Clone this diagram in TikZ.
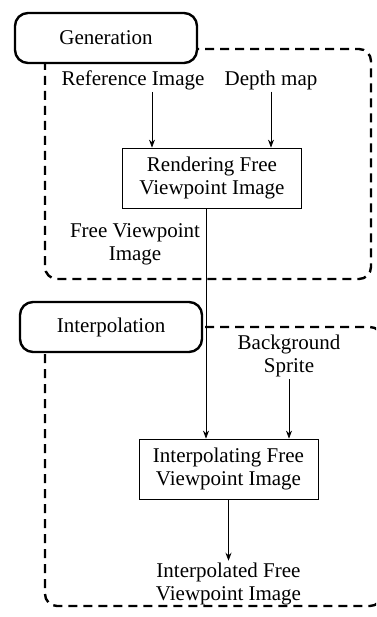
\documentclass[tikz,border=0pt]{standalone}
\usepackage{fontspec}
\setmainfont{Liberation Serif}
\usetikzlibrary{shapes.geometric, arrows.meta}

\begin{document}
\begin{tikzpicture}[x=1pt, y=-1pt, font=\fontsize{21}{23}\selectfont]
		\tikzstyle{Stage} = [rectangle, rounded corners=13pt, minimum width=182pt, minimum height=50pt, text centered, line width=2.4pt, draw=black, fill=white]
		\tikzstyle{Process} = [rectangle, minimum width=179pt, minimum height=60pt, align=center, line width=0.8pt, draw=black, fill=white]
		\tikzstyle{Data} = [align=center, inner sep=2pt]
		\tikzstyle{Region} = [line width=2.4pt, dash pattern=on 9pt off 6pt, rounded corners=12pt]
		\tikzstyle{arrow} = [line width=0.8pt, -{Stealth[length=8pt, width=6pt]}]
		
		%\draw[step=50,gray,very thin] (0,0) grid (376,617);
		
		\useasboundingbox (0,0) rectangle (376,617);
		\clip (0,0) rectangle (376,617);
		
		\draw [Region] (45,49) rectangle (371,279);
		\draw [Region] (45,327) rectangle (382,606);
		
		\node (genStage) [Stage] at (106,38) {Generation};
		\node (interpStage) [Stage] at (111,327) {Interpolation};
		
		\node (refImg) [Data] at (133,80) {Reference Image};
		\node (depthMap) [Data] at (271,80) {Depth map};
		\node (renderNode) [Process] at (212,178) {Rendering Free\\Viewpoint Image};
		\node (fvLabel) [Data] at (135,244) {Free Viewpoint\\Image};
		\node (bgSprite) [Data] at (289,356) {Background\\Sprite};
		\node (interpNode) [Process] at (228.5,469) {Interpolating Free\\Viewpoint Image};
		\node (resultNode) [Data] at (228.5,584) {Interpolated Free\\Viewpoint Image};
		
		\draw [arrow] ([xshift=19pt]refImg.south) -- ([xshift=19pt]refImg.south |- renderNode.north);
		\draw [arrow] (depthMap.south) -- (depthMap.south |- renderNode.north);
		\draw [arrow] ([xshift=-6pt]renderNode.south) -- ([xshift=-6pt]renderNode.south |- interpNode.north);
		\draw [arrow] (bgSprite.south) -- (bgSprite.south |- interpNode.north);
		\draw [arrow] (interpNode.south) -- (resultNode.north);
\end{tikzpicture}
\end{document}
